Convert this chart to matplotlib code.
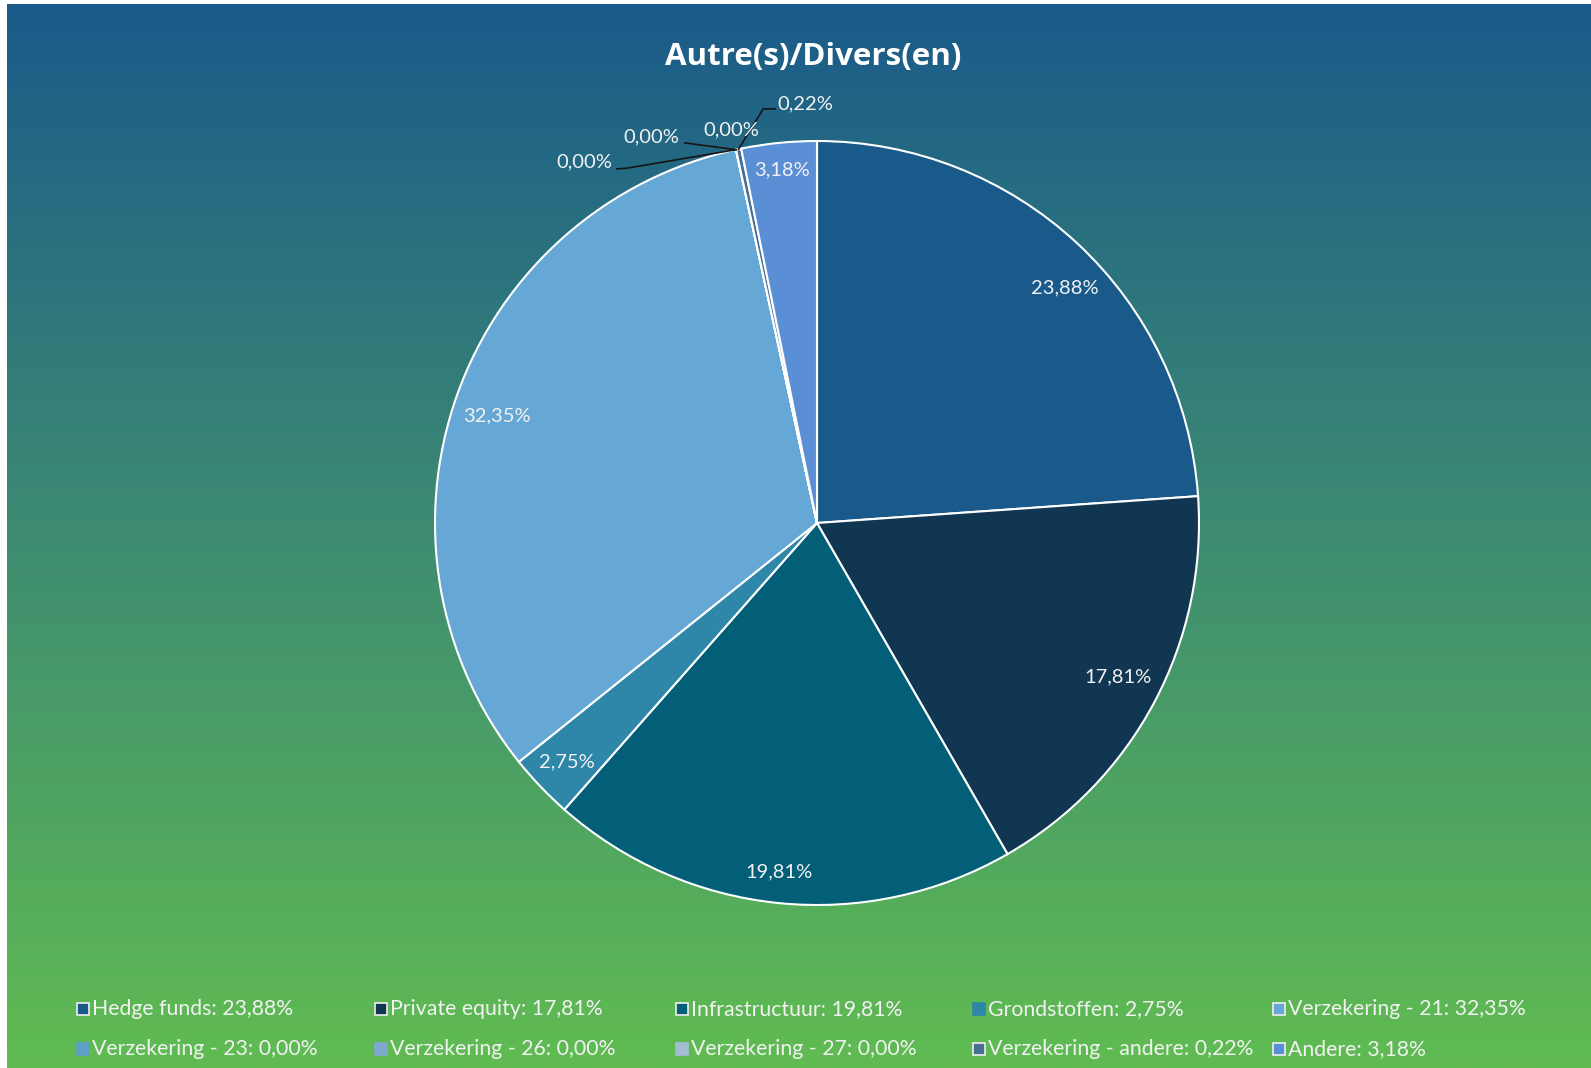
import numpy as np
import matplotlib
matplotlib.use("Agg")
import matplotlib.pyplot as plt
from matplotlib.patches import Rectangle
from matplotlib.colors import LinearSegmentedColormap

categories = ["Hedge funds", "Private equity", "Infrastructuur", "Grondstoffen",
              "Verzekering - 21", "Verzekering - 23", "Verzekering - 26",
              "Verzekering - 27", "Verzekering - andere", "Andere"]
values = [23.88, 17.81, 19.81, 2.75, 32.35, 0.00, 0.00, 0.00, 0.22, 3.18]
colors = ["#1a5a8a", "#103652", "#035f78", "#2e86a8", "#65a8d5",
          "#5e9fc8", "#7ea8cc", "#a3bdd3", "#476f95", "#5a8fd6"]
legend_border = [True, True, True, False, True, False, False, False, True, True]
title = "Autre(s)/Divers(en)"

def fmt(v):
    return f"{v:.2f}".replace(".", ",") + "%"

W, H = 1591, 1068
fig = plt.figure(figsize=(W / 100, H / 100), dpi=100)
fig.patch.set_facecolor("white")

# gradient background
bg = fig.add_axes([7 / W, 0, 1 - 7 / W, 1 - 4 / H])
cmap = LinearSegmentedColormap.from_list("g", ["#1a5b8a", "#3d8c72", "#60bc51"])
grad = np.linspace(0, 1, 512).reshape(-1, 1)
bg.imshow(grad, aspect="auto", cmap=cmap, extent=[0, 1, 0, 1], origin="upper")
bg.set_axis_off()

# pie axes
cx, cy, R = 817, 523, 382
half = 420
ax = fig.add_axes([(cx - half) / W, 1 - (cy + half) / H, 2 * half / W, 2 * half / H])
ax.set_axis_off()

wedges, _ = ax.pie(values, colors=colors, startangle=90, counterclock=False,
                   radius=1.0, wedgeprops=dict(edgecolor="white", linewidth=1.5))
lim = half / R
ax.set_xlim(-lim, lim)
ax.set_ylim(-lim, lim)
ax.set_aspect("equal")

lab_font = dict(family="Lato", fontsize=14.5, color="#f2f2f2")
# label placement (radial fraction, angular nudge in degrees) for the big slices
label_dist = {0: (0.895, -3.5), 1: (0.885, 1.0), 2: (0.92, -0.5), 3: (0.905, 0.0),
              4: (0.885, 1.0), 9: (0.93, 0.0)}
for i, (w, v) in enumerate(zip(wedges, values)):
    if v >= 1:
        d, nudge = label_dist.get(i, (0.89, 0.0))
        ang = np.deg2rad((w.theta1 + w.theta2) / 2 + nudge)
        ax.text(d * np.cos(ang), d * np.sin(ang), fmt(v), ha="center", va="center", **lab_font)

# small slices with leader lines
small = [i for i, v in enumerate(values) if v < 1]
edge_pts = []
for i in small:
    w = wedges[i]
    ang = np.deg2rad((w.theta1 + w.theta2) / 2)
    edge_pts.append((np.cos(ang), np.sin(ang)))

lc = "#151515"
# Verzekering - 23 (lower left label)
p = edge_pts[0]
ax.plot([p[0], -0.497, -0.524], [p[1], 0.929, 0.927], color=lc, lw=1.2)
ax.text(-0.536, 0.945, fmt(values[small[0]]), ha="right", va="center", **lab_font)
# Verzekering - 26
p = edge_pts[1]
ax.plot([p[0], -0.346], [p[1], 0.995], color=lc, lw=1.2)
ax.text(-0.360, 1.010, fmt(values[small[1]]), ha="right", va="center", **lab_font)
# Verzekering - 27
ax.text(-0.225, 1.030, fmt(values[small[2]]), ha="center", va="center", **lab_font)
# Verzekering - andere
p = edge_pts[3]
ax.plot([p[0], -0.141, -0.110], [p[1], 1.084, 1.084], color=lc, lw=1.2)
ax.text(-0.103, 1.097, fmt(values[small[3]]), ha="left", va="center", **lab_font)

# title
fig.text(813 / W, 1 - 57 / H, title, ha="center", va="center",
         family="Open Sans", fontweight="bold", fontsize=22.5, color="white")

# legend
col_x = [83, 381, 682, 979, 1279]
row_y = [1009, 1049]
sq = 12
for i, (c, v, col) in enumerate(zip(categories, values, colors)):
    x = col_x[i % 5]
    y = row_y[i // 5]
    ec = "#eeeeee" if legend_border[i] else col
    fig.add_artist(Rectangle(((x - sq / 2) / W, 1 - (y + sq / 2) / H), sq / W, sq / H,
                             transform=fig.transFigure, facecolor=col, edgecolor=ec, lw=1.2))
    fig.text((x + 9) / W, 1 - y / H, f"{c}: {fmt(v)}", ha="left", va="center",
             family="Lato", fontsize=15.3, color="#f2f2f2")

fig.savefig("out.png", dpi=100)
